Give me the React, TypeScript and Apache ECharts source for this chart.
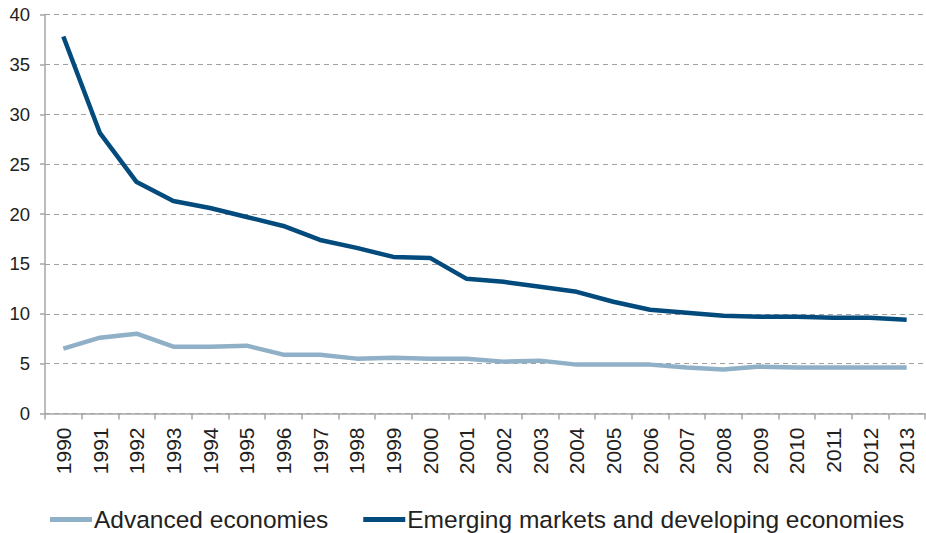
import React, { useEffect, useRef } from "react";
import * as echarts from "echarts";

const years = ["1990","1991","1992","1993","1994","1995","1996","1997","1998","1999","2000","2001","2002","2003","2004","2005","2006","2007","2008","2009","2010","2011","2012","2013"];
const advanced = [6.5,7.6,8.0,6.7,6.7,6.8,5.9,5.9,5.5,5.6,5.5,5.5,5.2,5.3,4.9,4.9,4.9,4.6,4.4,4.7,4.6,4.6,4.6,4.6];
const emerging = [37.8,28.1,23.2,21.3,20.6,19.7,18.8,17.4,16.6,15.7,15.6,13.5,13.2,12.7,12.2,11.2,10.4,10.1,9.8,9.7,9.7,9.6,9.6,9.4];
const seriesNames = ["Advanced economies", "Emerging markets and developing economies"];

export default function App() {
  const ref = useRef<HTMLDivElement>(null);
  useEffect(() => {
    const chart = echarts.init(ref.current!, null, { renderer: "svg" });
    const font = "'Liberation Sans', Arial, sans-serif";
    chart.setOption({
      animation: false,
      textStyle: { fontFamily: font },
      grid: { left: 45, right: 1, top: 14.5, bottom: 119.5, containLabel: false },
      legend: {
        top: 502,
        left: 45,
        itemWidth: 42,
        itemHeight: 5,
        itemGap: 35,
        icon: "rect",
        textStyle: { fontSize: 24.5, color: "#222", fontFamily: font, padding: [0, 0, 0, -3] },
        data: seriesNames,
      },
      xAxis: {
        type: "category",
        data: years,
        boundaryGap: true,
        axisLine: { lineStyle: { color: "#a6a6a6", width: 1.5 } },
        axisTick: { show: true, length: 6, lineStyle: { color: "#a6a6a6", width: 1.5 } },
        axisLabel: { rotate: 90, fontSize: 21, color: "#222", margin: 14, fontFamily: font },
      },
      yAxis: {
        type: "value",
        min: 0,
        max: 40,
        interval: 5,
        axisLine: { show: true, lineStyle: { color: "#a6a6a6", width: 1.5 } },
        axisTick: { show: true, length: 5, lineStyle: { color: "#a6a6a6", width: 1.5 } },
        axisLabel: { fontSize: 18.5, color: "#222", margin: 15, fontFamily: font },
        splitLine: { show: true, lineStyle: { color: "#a0a0a0", type: [5, 4], width: 1.2 } },
      },
      series: [
        {
          name: seriesNames[0],
          type: "line",
          data: advanced,
          symbol: "none",
          lineStyle: { color: "#8fb0c7", width: 4.5 },
          itemStyle: { color: "#8fb0c7" },
        },
        {
          name: seriesNames[1],
          type: "line",
          data: emerging,
          symbol: "none",
          lineStyle: { color: "#034b7d", width: 4.5 },
          itemStyle: { color: "#034b7d" },
        },
      ],
    });
    return () => chart.dispose();
  }, []);
  return <div ref={ref} style={{ width: 926, height: 533, position: "absolute", left: 0, top: 0 }} />;
}
